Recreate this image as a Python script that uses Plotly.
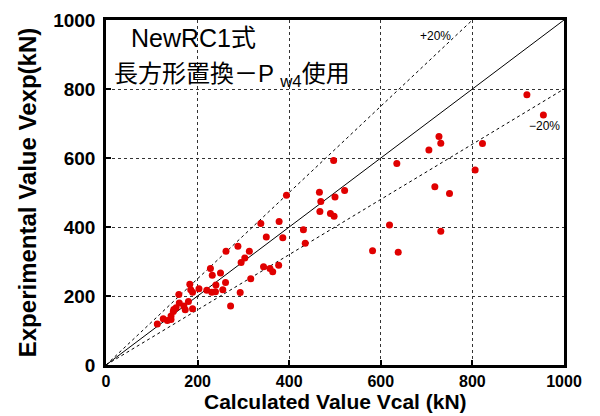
import plotly.graph_objects as go

# Calculated vs. experimental shear strength (kN)
vcal = [112, 125, 134, 142, 142, 147, 148, 153, 160, 159, 170, 173, 180, 189,
        183, 185, 189, 203, 220, 231, 239, 232, 228, 240, 250, 261, 255, 272,
        293, 316, 262, 288, 303, 295, 313, 344, 358, 364, 377, 338, 378, 350,
        386, 394, 466, 469, 500, 521, 497, 467, 490, 498, 431, 435, 582, 619,
        638, 635, 705, 727, 731, 718, 750, 731, 806, 822, 919, 955]
vexp = [119, 134, 129, 132, 142, 155, 161, 166, 180, 204, 171, 160, 184, 163,
        234, 218, 211, 221, 217, 211, 212, 260, 280, 232, 267, 239, 218, 171,
        210, 250, 330, 344, 310, 297, 330, 285, 280, 270, 289, 410, 416, 371,
        369, 492, 501, 474, 487, 506, 593, 445, 439, 431, 392, 353, 331, 406,
        327, 584, 623, 662, 643, 517, 497, 388, 565, 642, 783, 725]

# Reference lines: 1:1 and ±20 %
ref_x = [0, 1000]
ref_y = [0, 1000]
plus_x = [0, 800]
plus_y = [0, 1000]
minus_x = [0, 1000]
minus_y = [0, 800]

ticks = [0, 200, 400, 600, 800, 1000]

FONT = "Liberation Sans, Arial, Noto Sans CJK JP, sans-serif"

fig = go.Figure()
fig.add_trace(go.Scatter(x=plus_x, y=plus_y, mode="lines",
                         line=dict(color="black", width=1, dash="dot"),
                         hoverinfo="skip"))
fig.add_trace(go.Scatter(x=minus_x, y=minus_y, mode="lines",
                         line=dict(color="black", width=1, dash="dot"),
                         hoverinfo="skip"))
fig.add_trace(go.Scatter(x=ref_x, y=ref_y, mode="lines",
                         line=dict(color="black", width=1),
                         hoverinfo="skip"))
fig.add_trace(go.Scatter(x=vcal, y=vexp, mode="markers",
                         marker=dict(color="#e00000", size=7,
                                     line=dict(width=0))))

axis_common = dict(
    range=[0, 1000], tickvals=ticks, ticks="inside", ticklen=5,
    tickwidth=1.5, tickcolor="black",
    showline=True, linecolor="black", linewidth=2.5, mirror=True,
    showgrid=True, gridcolor="#333333", griddash="dot", gridwidth=1,
    zeroline=False, automargin=False,
)

fig.update_xaxes(**axis_common,
                 tickfont=dict(family=FONT, size=16, color="black",
                               weight="bold"))
fig.update_yaxes(**axis_common,
                 tickfont=dict(family=FONT, size=19, color="black",
                               weight="bold"),
                 ticklabelstandoff=4,
                 title=dict(text="<b>Experimental Value Vexp(kN)</b>",
                            font=dict(family=FONT, size=24, color="black"),
                            standoff=10))

# x-axis title
fig.add_annotation(x=0.5, y=-0.107, xref="paper", yref="paper",
                   xanchor="center", yanchor="middle", showarrow=False,
                   text="<b>Calculated Value Vcal (kN)</b>",
                   font=dict(family=FONT, size=21, color="black"))

fig.add_annotation(x=0.05, y=0.948, xref="paper", yref="paper",
                   xanchor="left", yanchor="middle", showarrow=False,
                   text="NewRC1式",
                   font=dict(family=FONT, size=25, color="black"))
fig.add_annotation(x=0.013, y=0.89, xref="paper", yref="paper",
                   xanchor="left", yanchor="top", showarrow=False,
                   text="長方形置換－P <sub>w4</sub>使用",
                   font=dict(family=FONT, size=24, color="black"))
fig.add_annotation(x=720, y=955, xanchor="center", yanchor="middle",
                   showarrow=False, text="+20%",
                   font=dict(family=FONT, size=12, color="black"))
fig.add_annotation(x=958, y=693, xanchor="center", yanchor="middle",
                   showarrow=False, text="−20%",
                   font=dict(family=FONT, size=12, color="black"))

fig.update_layout(
    width=600, height=416,
    margin=dict(l=106, r=36, t=20, b=51),
    paper_bgcolor="white", plot_bgcolor="white",
    showlegend=False,
)

fig.write_html("out.html")
